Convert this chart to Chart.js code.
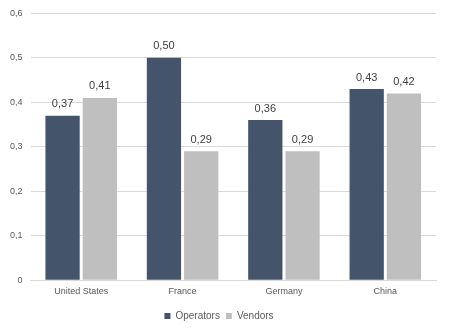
<!DOCTYPE html>
<html><head><meta charset="utf-8">
<script src="https://cdn.jsdelivr.net/npm/chart.js@4"></script>
<style>html,body{margin:0;padding:0;background:#fff}#w{width:450px;height:333px}</style>
</head><body><div id="w"><canvas id="c"></canvas></div>
<script>
const categories = ["United States", "France", "Germany", "China"];
const operators = [0.37, 0.50, 0.36, 0.43];
const vendors = [0.41, 0.29, 0.29, 0.42];
const yTicks = [0, 0.1, 0.2, 0.3, 0.4, 0.5, 0.6];

const fmt = v => v === 0 ? "0" : v.toFixed(1).replace(".", ",");
const labelPlugin = {
  id: "vals",
  afterDatasetsDraw(chart) {
    const ctx = chart.ctx;
    ctx.save();
    ctx.font = "11px 'Liberation Sans', Arial, sans-serif";
    ctx.fillStyle = "#404040";
    ctx.textAlign = "center";
    ctx.textBaseline = "bottom";
    chart.data.datasets.forEach((ds, i) => {
      chart.getDatasetMeta(i).data.forEach((el, j) => {
        ctx.fillText(ds.data[j].toFixed(2).replace(".", ","), el.x, el.y - 6);
      });
    });
    ctx.restore();
  }
};

new Chart(document.getElementById("c"), {
  type: "bar",
  data: {
    labels: categories,
    datasets: [
      { label: "Operators", data: operators, backgroundColor: "#44546A" },
      { label: "Vendors", data: vendors, backgroundColor: "#BFBFBF" }
    ]
  },
  options: {
    responsive: true, maintainAspectRatio: false, animation: false,
    layout: { padding: { top: 11, right: 14, left: 2, bottom: 2 } },
    datasets: { bar: { categoryPercentage: 0.735, barPercentage: 0.92 } },
    plugins: {
      legend: {
        position: "bottom",
        labels: { boxWidth: 6, boxHeight: 6, font: { size: 10, family: "'Liberation Sans', Arial, sans-serif" }, color: "#595959", padding: 6 }
      },
      tooltip: { enabled: false }
    },
    scales: {
      x: {
        grid: { display: false, drawTicks: false },
        border: { color: "#D9D9D9" },
        afterFit: ax => { ax.height += 2; },
        ticks: { font: { size: 9, family: "'Liberation Sans', Arial, sans-serif" }, color: "#595959", padding: 6 }
      },
      y: {
        min: 0, max: 0.6,
        afterBuildTicks: ax => { ax.ticks = yTicks.map(v => ({ value: v })); },
        grid: { color: "#D9D9D9", drawTicks: false },
        border: { display: false },
        ticks: { callback: v => fmt(v), font: { size: 9, family: "'Liberation Sans', Arial, sans-serif" }, color: "#595959", padding: 8 }
      }
    }
  },
  plugins: [labelPlugin]
});
</script></body></html>
